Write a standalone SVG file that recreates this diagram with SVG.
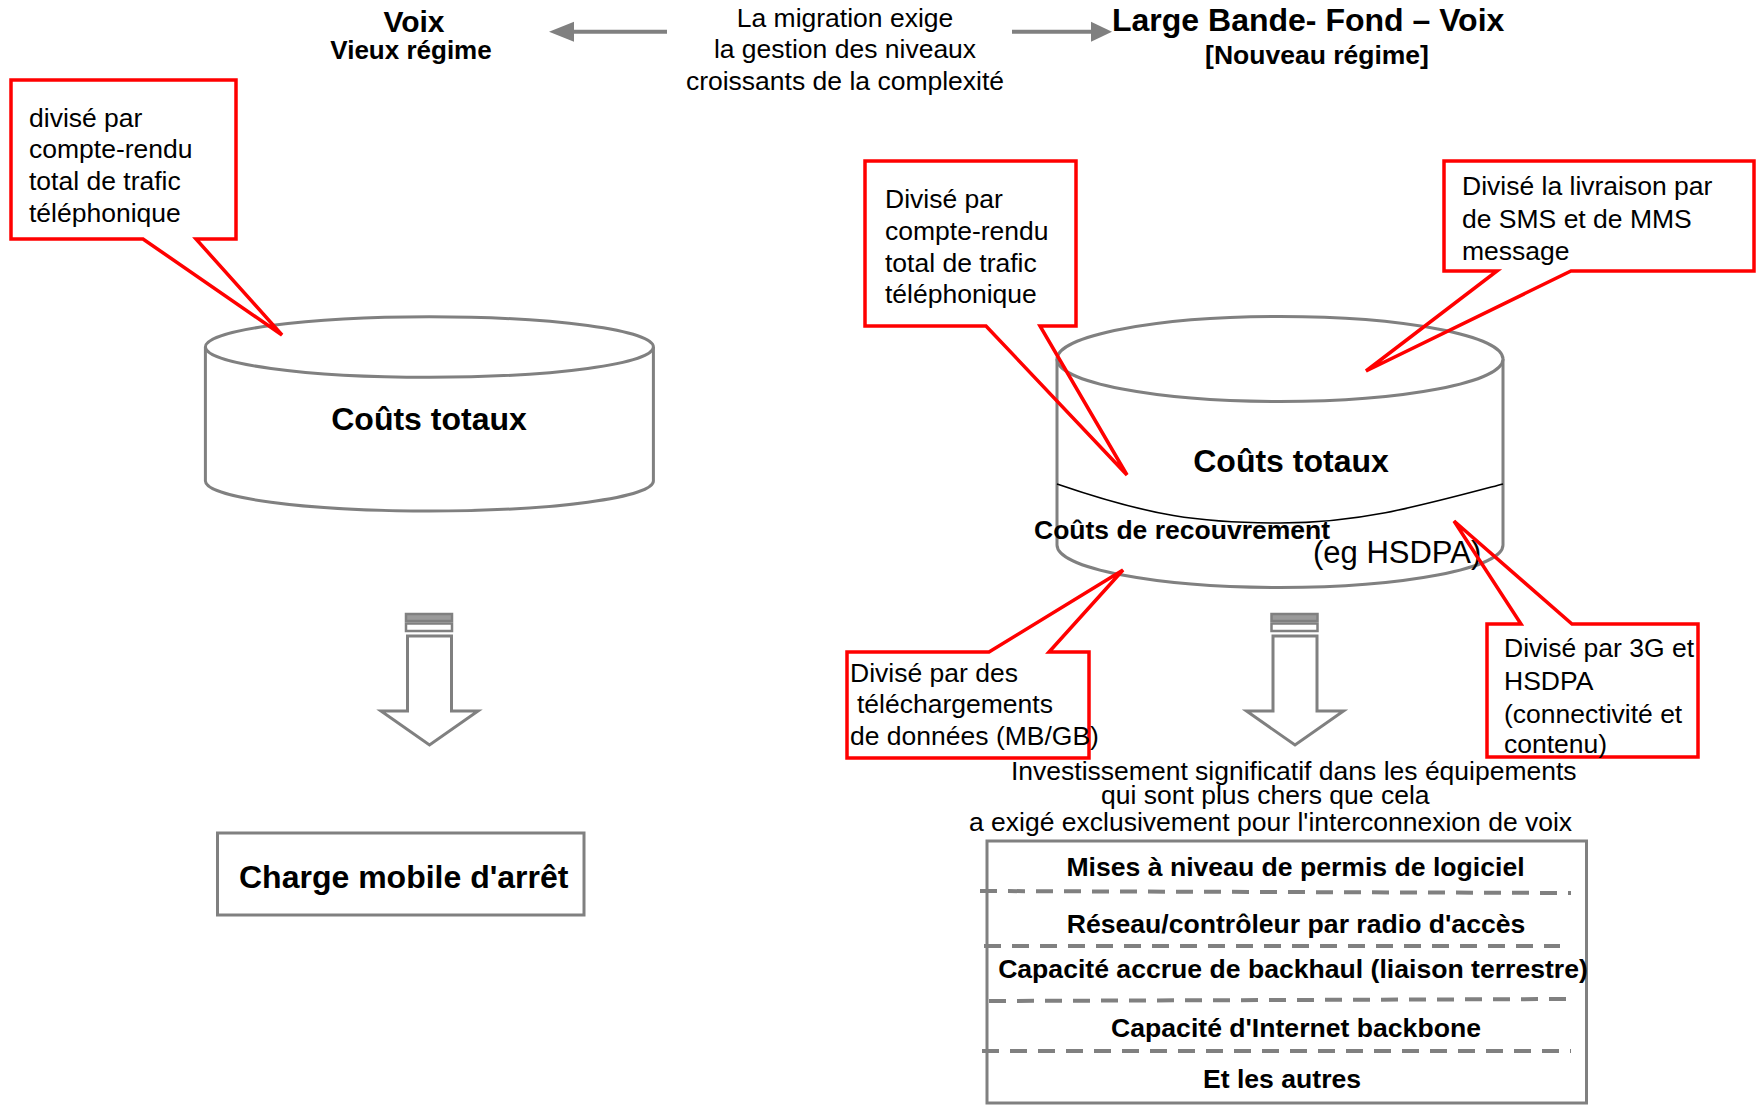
<svg xmlns="http://www.w3.org/2000/svg" width="1757" height="1105" viewBox="0 0 1757 1105">
<style>
text{font-family:"Liberation Sans",Arial,sans-serif;fill:#000}
.b{font-weight:bold}
.r26{font-size:26.5px}
.callout{fill:none;stroke:#ff0000;stroke-width:3.5;stroke-linejoin:miter}
.gray{fill:#fff;stroke:#808080;stroke-width:3}
.dash{stroke:#808080;stroke-width:4;stroke-dasharray:17 11;fill:none}
.mid{text-anchor:middle}
.tb{font-weight:bold;font-size:26.6px;text-anchor:middle}
</style>
<defs>
<g id="downArrow">
<rect x="406" y="614" width="46" height="7" fill="#9a9a9a" stroke="#808080" stroke-width="2.5"/>
<rect x="406" y="623.5" width="46" height="7.5" fill="#fff" stroke="#808080" stroke-width="2.5"/>
<path d="M407.5,636 V711 H381 L429.5,745 L478,711 H451.5 V636 Z" fill="#fff" stroke="#808080" stroke-width="3"/>
</g>
</defs>
<rect width="1757" height="1105" fill="#fff"/>

<g id="title-left">
<text class="b mid" x="414" y="32" font-size="30">Voix</text>
<text class="b mid" x="411" y="59" font-size="26">Vieux régime</text>
</g>
<g id="title-middle">
<text class="mid r26" x="845" y="27">La migration exige</text>
<text class="mid r26" x="845" y="58">la gestion des niveaux</text>
<text class="mid r26" x="845" y="90">croissants de la complexité</text>
</g>
<g id="title-right">
<text class="b" x="1112" y="31" font-size="32">Large Bande- Fond – Voix</text>
<text class="b mid" x="1317" y="64" font-size="26.5">[Nouveau régime]</text>
</g>

<g id="cylinder-left">
<path class="gray" d="M205.4,347 V481 A224,30 0 0 0 653.4,481 V347"/>
<ellipse class="gray" cx="429.4" cy="347" rx="224" ry="30.3"/>
<text class="b mid" x="429" y="430" font-size="32">Coûts totaux</text>
</g>

<g id="cylinder-right">
<path class="gray" d="M1057,359 V545 A223,42.5 0 0 0 1503,545 V359"/>
<ellipse class="gray" cx="1280" cy="359" rx="223" ry="42.5"/>
<path d="M1057,484 C1150,516 1200,523 1280,523 C1360,523 1420,506 1503,484" fill="none" stroke="#000" stroke-width="1.6"/>
<text class="b mid" x="1291" y="472" font-size="32">Coûts totaux</text>
<text class="b" x="1034" y="539" font-size="26.5">Coûts de recouvrement</text>
<text x="1313" y="563" font-size="31">(eg HSDPA)</text>
</g>

<g id="box-charge">
<rect class="gray" x="217.5" y="833" width="366.5" height="82"/>
<text class="b" x="239" y="888" font-size="32">Charge mobile d'arrêt</text>
</g>

<g id="investment-text">
<text x="1011" y="780" font-size="26.5">Investissement significatif dans les équipements</text>
<text x="1101" y="804" font-size="26.5">qui sont plus chers que cela</text>
<text x="969" y="831" font-size="26.5">a exigé exclusivement pour l'interconnexion de voix</text>
</g>

<g id="equipment-table">
<rect class="gray" x="987" y="841" width="599.5" height="262"/>
<line class="dash" x1="980" y1="891" x2="1571" y2="893"/>
<line class="dash" x1="984" y1="946" x2="1560" y2="946"/>
<line class="dash" x1="989" y1="1001" x2="1567" y2="999"/>
<line class="dash" x1="982" y1="1051" x2="1571" y2="1051"/>
<text class="tb" x="1295.5" y="876">Mises à niveau de permis de logiciel</text>
<text class="tb" x="1296" y="933">Réseau/contrôleur par radio d'accès</text>
<text class="tb" x="1293" y="978">Capacité accrue de backhaul (liaison terrestre)</text>
<text class="tb" x="1296" y="1037">Capacité d'Internet backbone</text>
<text class="tb" x="1282" y="1088">Et les autres</text>
</g>

<g id="connectors">
<line x1="667" y1="31.7" x2="572" y2="31.7" stroke="#808080" stroke-width="4"/>
<polygon points="549,31.7 574,21.7 574,41.7" fill="#808080"/>
<line x1="1012" y1="31.7" x2="1093" y2="31.7" stroke="#808080" stroke-width="4"/>
<polygon points="1112,31.7 1091,21.7 1091,41.7" fill="#808080"/>
<use href="#downArrow"/>
<use href="#downArrow" transform="translate(865.5,0)"/>
</g>

<g id="callout-left">
<path class="callout" d="M11,80 H236 V239 H196 L282,335 L143,239 H11 Z"/>
<text class="r26" x="29" y="127">divisé par</text>
<text class="r26" x="29" y="158">compte-rendu</text>
<text class="r26" x="29" y="190">total de trafic</text>
<text class="r26" x="29" y="222">téléphonique</text>
</g>

<g id="callout-voice">
<path class="callout" d="M865,161 H1076 V326 H1040 L1127,475 L986,326 H865 Z"/>
<text class="r26" x="885" y="208">Divisé par</text>
<text class="r26" x="885" y="240">compte-rendu</text>
<text class="r26" x="885" y="272">total de trafic</text>
<text class="r26" x="885" y="303">téléphonique</text>
</g>

<g id="callout-sms">
<path class="callout" d="M1444,161 H1754 V271 H1571 L1366,371 L1497,271 H1444 Z"/>
<text class="r26" x="1462" y="195">Divisé la livraison par</text>
<text class="r26" x="1462" y="228">de SMS et de MMS</text>
<text class="r26" x="1462" y="260">message</text>
</g>

<g id="callout-data">
<path class="callout" d="M847,652 H989 L1123,570 L1049,652 H1089 V758 H847 Z"/>
<text class="r26" x="850" y="682">Divisé par des</text>
<text class="r26" x="857" y="713">téléchargements</text>
<text class="r26" x="850" y="745">de données (MB/GB)</text>
</g>

<g id="callout-3g">
<path class="callout" d="M1487,624 H1521 L1454,521 L1572,624 H1698 V757 H1487 Z"/>
<text class="r26" x="1504" y="657">Divisé par 3G et</text>
<text class="r26" x="1504" y="690">HSDPA</text>
<text class="r26" x="1504" y="723">(connectivité et</text>
<text class="r26" x="1504" y="753">contenu)</text>
</g>
</svg>
